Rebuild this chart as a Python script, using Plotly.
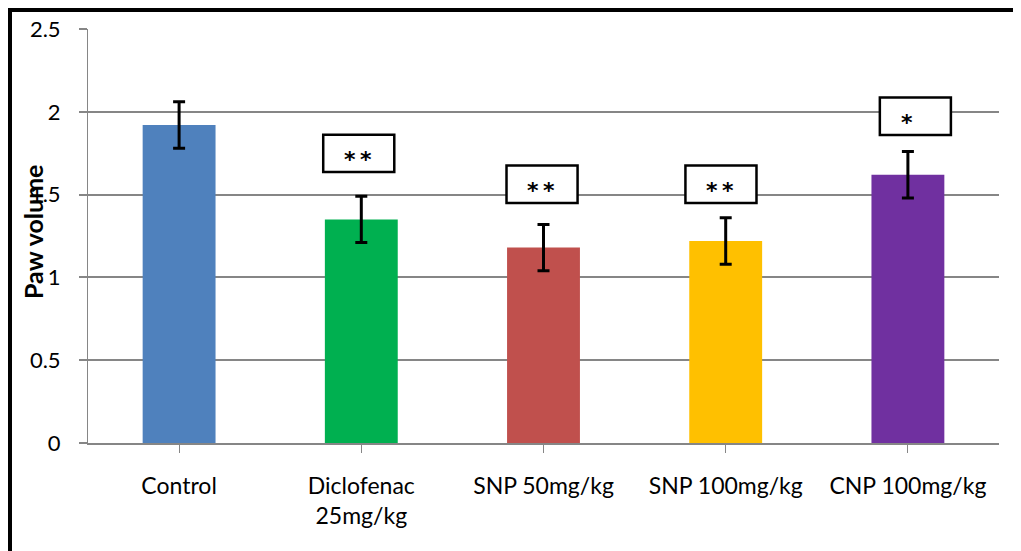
import plotly.graph_objects as go

# ---- data ----
categories = ["Control", "Diclofenac<br>25mg/kg", "SNP 50mg/kg", "SNP 100mg/kg", "CNP 100mg/kg"]
paw_volume = [1.92, 1.35, 1.18, 1.22, 1.62]
paw_error = [0.14, 0.14, 0.14, 0.14, 0.14]
significance = ["", "**", "**", "**", "*"]
y_ticks = [0, 0.5, 1, 1.5, 2, 2.5]
y_tick_labels = ["0", "0.5", "1", "1.5", "2", "2.5"]

# ---- styles / placement ----
bar_colors = ["#4F81BD", "#00B050", "#C0504D", "#FFC000", "#7030A0"]
box_bottom = [None, 1.636, 1.449, 1.449, 1.860]
box_height = 0.226
box_xoffset = [0, -0.014, -0.008, -0.026, 0.041]
box_width = 0.39
text_xoffset = [0, -0.018, -0.015, -0.031, -0.007]

FONT = "Lato"
OFF = 8  # page body margin
W, H = 1021 - OFF, 551 - OFF
ML, MR, MT, MB = 88 - OFF, 22, 29 - OFF, 108
PW, PH = W - ML - MR, H - MT - MB


def px_x(px):  # page pixel -> paper
    return (px - OFF - ML) / PW


def px_y(py):
    return (H - MB - (py - OFF)) / PH


fig = go.Figure()
fig.add_trace(go.Bar(
    x=list(range(len(categories))),
    y=paw_volume,
    width=0.4,
    marker=dict(color=bar_colors, line=dict(width=0)),
    error_y=dict(type="data", array=paw_error, visible=True,
                 color="black", thickness=3, width=6),
    showlegend=False,
    hoverinfo="skip",
))

shapes = []
annotations = []
for i, s in enumerate(significance):
    if not s:
        continue
    cx = i + box_xoffset[i]
    shapes.append(dict(
        type="rect", xref="x", yref="y", layer="above",
        x0=cx - box_width / 2, x1=cx + box_width / 2,
        y0=box_bottom[i], y1=box_bottom[i] + box_height,
        line=dict(color="black", width=2.5), fillcolor="white",
    ))
    annotations.append(dict(
        x=i + text_xoffset[i], y=box_bottom[i] + box_height / 2,
        xref="x", yref="y", text="<b>" + "\u2009".join(s) + "</b>", showarrow=False,
        xanchor="center", yanchor="middle", yshift=-6,
        font=dict(family="DejaVu Sans", size=22, color="black"),
    ))

# axis title as annotation (overlapping tick labels like the reference)
annotations.append(dict(
    x=px_x(33), y=px_y(232), xref="paper", yref="paper",
    text="<b>Paw volume</b>", textangle=-90, showarrow=False,
    xanchor="center", yanchor="middle",
    font=dict(family=FONT, size=25, color="black"),
))

# outer frame (top and left edges visible)
shapes.append(dict(type="line", xref="paper", yref="paper",
                   x0=px_x(7), x1=px_x(1030), y0=px_y(10), y1=px_y(10),
                   line=dict(color="black", width=4), layer="above"))
shapes.append(dict(type="line", xref="paper", yref="paper",
                   x0=px_x(9.5), x1=px_x(9.5), y0=px_y(8), y1=px_y(560),
                   line=dict(color="black", width=5), layer="above"))

fig.update_layout(
    width=W, height=H,
    margin=dict(l=ML, r=MR, t=MT, b=MB, autoexpand=False),
    paper_bgcolor="white", plot_bgcolor="white",
    font=dict(family=FONT, size=22, color="black"),
    shapes=shapes, annotations=annotations,
    xaxis=dict(
        tickmode="array", tickvals=list(range(len(categories))), ticktext=categories,
        range=[-0.5, len(categories) - 0.5],
        showgrid=False, zeroline=False,
        showline=True, linecolor="#868686", linewidth=2,
        ticks="outside", ticklen=8, tickcolor="#868686", tickwidth=1,
        tickson="boundaries", ticklabelstandoff=13,
        tickfont=dict(family=FONT, size=23, color="black"),
    ),
    yaxis=dict(
        range=[0, 2.5], tickmode="array", tickvals=y_ticks, ticktext=y_tick_labels,
        showgrid=True, gridcolor="#868686", gridwidth=1.5,
        zeroline=False,
        showline=True, linecolor="#868686", linewidth=1,
        ticks="outside", ticklen=8, tickcolor="#868686", tickwidth=1.5,
        ticklabelstandoff=14,
        tickfont=dict(family=FONT, size=22, color="black"),
    ),
)

fig.write_html("out.html")
